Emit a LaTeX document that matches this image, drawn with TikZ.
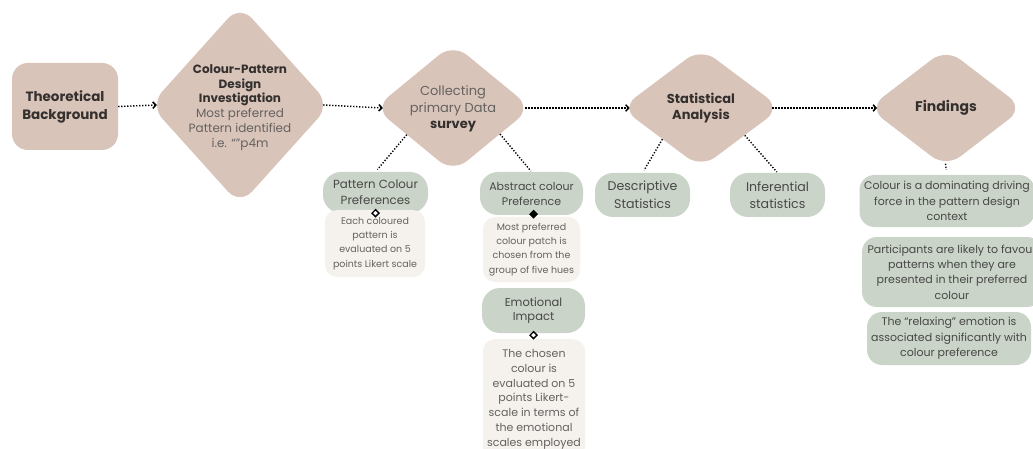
\documentclass[tikz,border=0pt]{standalone}
\usepackage{fontspec}
\setmainfont{Poppins}
\usetikzlibrary{shapes.geometric,arrows.meta,calc}

\definecolor{rosebeige}{RGB}{217,196,186}
\definecolor{sage}{RGB}{202,212,201}
\definecolor{cream}{RGB}{245,241,237}
\definecolor{inkdark}{RGB}{52,48,46}
\definecolor{inktext}{RGB}{72,72,70}
\definecolor{inkgray}{RGB}{100,98,96}

\tikzset{
  stage/.style={diamond, fill=rosebeige, rounded corners=18pt, inner sep=0pt},
  stagetext/.style={align=center, inner sep=0pt, text=inkdark},
  startbox/.style={rectangle, fill=rosebeige, rounded corners=16pt, inner sep=0pt,
    align=center, text=inkdark, font=\fontsize{13.5}{18}\selectfont\bfseries},
  pill/.style={rectangle, fill=sage, rounded corners=18pt, inner sep=0pt,
    align=center, text=inktext, font=\fontsize{11.5}{16}\selectfont},
  note/.style={rectangle, fill=cream, rounded corners=12pt, inner sep=0pt,
    align=center, text=inkgray, font=\fontsize{9.5}{14.2}\selectfont},
  finding/.style={rectangle, fill=sage, rounded corners=15pt, inner sep=0pt,
    align=center, text=inktext, font=\fontsize{11}{15.3}\selectfont},
  pin/.style={diamond, draw=black, line width=1.4pt, fill=white,
    minimum size=7.5pt, inner sep=0pt},
  dotline/.style={line width=1.4pt, dash pattern=on 1.3pt off 1.7pt},
  flow/.style={dotline, -{Straight Barb[length=3pt,width=6.5pt,line width=1.5pt]}},
  link/.style={dotline}
}

\begin{document}
\begin{tikzpicture}[x=1pt,y=-1pt]
\clip (0,0) rectangle (1033,449);
\fill[white] (0,0) rectangle (1033,449);

% main process chain
\node[startbox, minimum width=106pt, minimum height=87pt] (tb) at (65,106.5)
  {Theoretical\\Background};

\node[stage, minimum width=180pt, minimum height=200pt] (d1) at (240,105) {};
\node[stagetext, font=\fontsize{12}{14.8}\selectfont] (d1t) at (240,107.5)
  {\bfseries Colour-Pattern\\
   \bfseries Design\\
   \bfseries Investigation\\
   \color{inkgray}Most preferred\\
   \color{inkgray}Pattern identified\\
   \color{inkgray}i.e. “”p4m};

\node[stage, minimum width=157pt, minimum height=129pt] (d2) at (453,108) {};
\node[stagetext, text=inkgray, font=\fontsize{13}{16.5}\selectfont] (d2t) at (453,109)
  {Collecting\\
   primary Data\\
   \bfseries\color{inkdark}survey};

\node[stage, minimum width=160pt, minimum height=120pt] (d3) at (701,108) {};
\node[stagetext, font=\fontsize{13}{16}\selectfont\bfseries] (d3t) at (701,108.5)
  {Statistical\\Analysis};

\node[stage, minimum width=155pt, minimum height=119pt] (d4) at (946,108) {};
\node[stagetext, font=\fontsize{14}{16}\selectfont\bfseries] (d4t) at (946,108) {Findings};

\draw[flow] (tb.east) -- ([xshift=7pt]d1.west);
\draw[flow] ([xshift=-7pt]d1.east) -- ([xshift=8.5pt]d2.west);
\draw[flow] ([xshift=-6.5pt]d2.east) -- ([xshift=8.9pt]d3.west);
\draw[flow] ([xshift=-8.9pt]d3.east) -- ([xshift=8.8pt]d4.west);

% survey branches
\node[pill, minimum width=105pt, minimum height=41pt,
  font=\fontsize{11.8}{16}\selectfont] (pc) at (375.5,192.5)
  {Pattern Colour\\Preferences};
\node[note, minimum width=100pt, minimum height=67pt] (pcx) at (375,243.5)
  {Each coloured\\pattern is\\evaluated on 5\\points Likert scale};
\node[pin] (pcpin) at (pc.south) {};

\node[pill, minimum width=103pt, minimum height=43pt,
  font=\fontsize{11}{15}\selectfont] (ab) at (531.5,193.5)
  {Abstract colour\\Preference};
\node[note, minimum width=97pt, minimum height=65pt] (abx) at (531.5,249.5)
  {Most preferred\\colour patch is\\chosen from the\\group of five hues};
\node[pin, fill=black] (abpin) at ([xshift=2pt,yshift=1pt]ab.south) {};

\node[pill, minimum width=103pt, minimum height=45pt,
  font=\fontsize{11.5}{14.5}\selectfont] (em) at (533.5,310.5)
  {Emotional\\Impact};
\node[note, anchor=north, minimum width=102pt, minimum height=120pt,
  font=\fontsize{11}{14.8}\selectfont] (emx) at (534,339)
  {The chosen\\colour is\\evaluated on 5\\points Likert-\\scale in terms of\\the emotional\\scales employed};
\node[pin] (empin) at ([yshift=-2pt]em.south) {};

\draw[link, shorten >=3pt] (d2.210) -- (pc.north);
\draw[link, shorten >=1pt] (d2.331) -- (ab.north);

% analysis branches
\node[pill, minimum width=95pt, minimum height=44pt,
  font=\fontsize{12.6}{17.5}\selectfont] (ds) at (642.5,195)
  {Descriptive\\Statistics};
\node[pill, minimum width=95pt, minimum height=44pt,
  font=\fontsize{12.6}{17.5}\selectfont] (inf) at (777.5,195)
  {Inferential\\statistics};
\draw[link, shorten >=3pt] (d3.219) -- (ds.north);
\draw[link, shorten >=1pt] (d3.328.5) -- (inf.north);

% findings
\node[finding, minimum width=175pt, minimum height=52pt] (f1) at (947,201)
  {Colour is a dominating driving\\force in the pattern design\\context};
\node[finding, minimum width=180pt, minimum height=70pt] (f2) at (952,272)
  {Participants are likely to favour\\patterns when they are\\presented in their preferred\\colour};
\node[finding, minimum width=164pt, minimum height=53pt] (f3) at (949,338.5)
  {The “relaxing” emotion is\\associated significantly with\\colour preference};
\draw[link, shorten <=-4pt, shorten >=5pt] (d4.south) -- (f1.north);
\end{tikzpicture}
\end{document}
